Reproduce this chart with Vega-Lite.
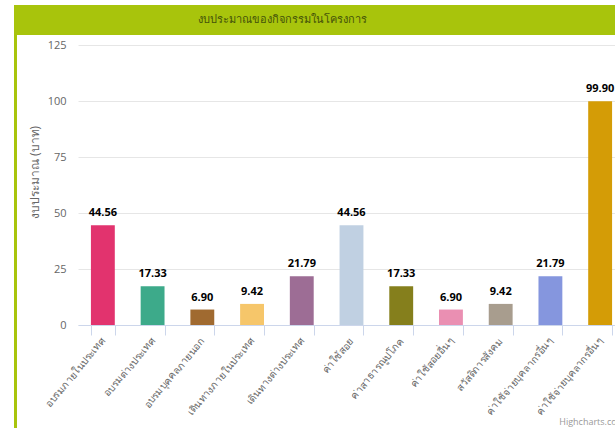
{
  "$schema": "https://vega.github.io/schema/vega-lite/v6.json",
  "padding": {"left": 13, "top": 5, "right": 0, "bottom": 0},
  "background": "white",
  "config": {
    "font": "Open Sans",
    "concat": {"spacing": 0}
  },
  "spacing": 0,
  "bounds": "flush",
  "hconcat": [
    {
      "width": 3,
      "height": 430,
      "view": {"fill": "#a8c40c", "stroke": null},
      "data": {"values": [{"t": ""}]},
      "mark": {"type": "text"},
      "encoding": {"text": {"field": "t"}}
    },
    {
      "spacing": 10,
      "bounds": "flush",
      "vconcat": [
        {
          "width": 608,
          "height": 30,
          "view": {"fill": "#a8c40c", "stroke": null},
          "data": {"values": [{"title": "งบประมาณของกิจกรรมในโครงการ"}]},
          "mark": {"type": "text", "fontSize": 11, "color": "#44520a", "dx": -39, "baseline": "middle"},
          "encoding": {"text": {"field": "title"}}
        },
        {
          "width": 608,
          "height": 280,
          "view": {"stroke": null},
          "title": {"text": "Highcharts.com", "orient": "bottom", "anchor": "end", "fontSize": 9, "fontWeight": "normal", "color": "#999999", "offset": 1},
          "data": {
            "values": [
              {"item": "อบรมภายในประเทศ", "budget": 44.56},
              {"item": "อบรมต่างประเทศ", "budget": 17.33},
              {"item": "อบรมบุคคลภายนอก", "budget": 6.90},
              {"item": "เดินทางภายในประเทศ", "budget": 9.42},
              {"item": "เดินทางต่างประเทศ", "budget": 21.79},
              {"item": "ค่าใช้สอย", "budget": 44.56},
              {"item": "ค่าสาธารณูปโภค", "budget": 17.33},
              {"item": "ค่าใช้สอยอื่นๆ", "budget": 6.90},
              {"item": "สวัสดิการสังคม", "budget": 9.42},
              {"item": "ค่าใช้จ่ายบุคลากรอื่นๆ", "budget": 21.79},
              {"item": "ค่าใช้จ่ายบุคลากรอื่นๆ ", "budget": 99.90}
            ]
          },
          "encoding": {
            "x": {
              "field": "item",
              "type": "nominal",
              "sort": null,
              "title": null,
              "scale": {"range": [61, 608], "paddingInner": 0.52, "paddingOuter": 0.26},
              "axis": {
                "labelAngle": -50,
                "labelAlign": "right",
                "labelBaseline": "middle",
                "labelFontSize": 10,
                "labelColor": "#666666",
                "labelPadding": 4,
                "tickBand": "extent",
                "tickSize": 10,
                "tickColor": "#ccd6eb",
                "domainColor": "#ccd6eb",
                "grid": false
              }
            },
            "y": {
              "field": "budget",
              "type": "quantitative",
              "scale": {"domain": [0, 125]},
              "title": "งบประมาณ (บาท)",
              "axis": {
                "offset": -61,
                "values": [0, 25, 50, 75, 100, 125],
                "domain": false,
                "ticks": false,
                "gridColor": "#e6e6e6",
                "labelColor": "#666666",
                "labelFontSize": 11,
                "labelPadding": 12,
                "titleColor": "#666666",
                "titleFontSize": 12,
                "titleFontWeight": "normal",
                "titlePadding": 6,
                "titleY": 127
              }
            }
          },
          "layer": [
            {
              "mark": {"type": "bar"},
              "encoding": {
                "color": {
                  "field": "item",
                  "type": "nominal",
                  "legend": null,
                  "sort": null,
                  "scale": {
                    "domain": [
                      "อบรมภายในประเทศ", "อบรมต่างประเทศ", "อบรมบุคคลภายนอก", "เดินทางภายในประเทศ",
                      "เดินทางต่างประเทศ", "ค่าใช้สอย", "ค่าสาธารณูปโภค", "ค่าใช้สอยอื่นๆ",
                      "สวัสดิการสังคม", "ค่าใช้จ่ายบุคลากรอื่นๆ", "ค่าใช้จ่ายบุคลากรอื่นๆ "
                    ],
                    "range": [
                      "#e2336e", "#3daa8a", "#a06a30", "#f6c66a", "#9d6d95", "#c0d0e2",
                      "#857f1c", "#ea8fb2", "#a89d8e", "#8596de", "#d49c06"
                    ]
                  }
                }
              }
            },
            {
              "mark": {
                "type": "text",
                "fontSize": 11,
                "fontWeight": "bold",
                "color": "#000000",
                "baseline": "alphabetic",
                "dy": -9
              },
              "encoding": {
                "text": {"field": "budget", "type": "quantitative", "format": ".2f"}
              }
            }
          ]
        }
      ]
    }
  ]
}
